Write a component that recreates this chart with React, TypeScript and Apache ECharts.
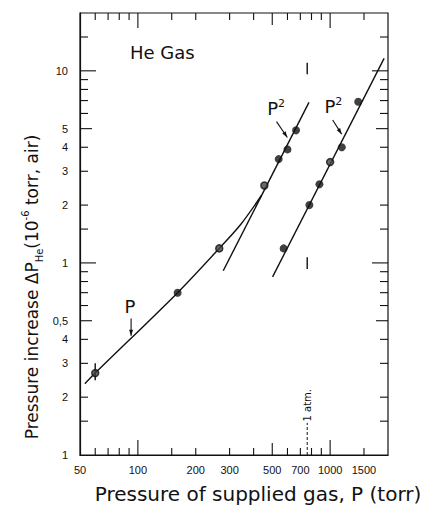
import React, { useEffect, useRef } from "react";
import * as echarts from "echarts";

// ---- Data ----
const X_MIN = 50;
const X_MAX = 2000;
const Y_MIN = 0.1;
const Y_MAX = 20;

// curved "P" line (linear at low pressure, bending into the P^2 line)
const curveP: [number, number][] = [
  [53, 0.235],
  [60, 0.267],
  [161, 0.7],
  [265, 1.19],
  [345, 1.6],
  [440, 2.25],
];
// straight P^2 fit lines
const lineLeftP2: [number, number][] = [
  [278, 0.91],
  [776, 6.85],
];
const lineRightP2: [number, number][] = [
  [502, 0.846],
  [1909, 11.6],
];
// measured points
const filledPts: [number, number][] = [
  [161, 0.7],
  [540, 3.47],
  [600, 3.9],
  [665, 4.9],
  [573, 1.19],
  [780, 2.0],
  [880, 2.57],
  [1150, 4.0],
  [1400, 6.9],
];
const openPts: [number, number][] = [
  [60, 0.267],
  [265, 1.19],
  [455, 2.53],
  [1000, 3.35],
];
const errorBar: [number, number][] = [
  [60, 0.245],
  [60, 0.3],
];
const atmUpper: [number, number][] = [
  [760, 9.6],
  [760, 11.0],
];
const atmLower: [number, number][] = [
  [760, 0.93],
  [760, 1.07],
];
const atmDashed: [number, number][] = [
  [760, 0.1],
  [760, 0.147],
];

// ticks and labels
const xTickValues = [60, 70, 80, 90, 100, 150, 200, 300, 400, 500, 600, 700, 800, 900, 1000, 1500];
const xLongTicks = [100, 1000];
const xMidTicks = [500];
const xLabelValues = [50, 100, 200, 300, 500, 700, 1000, 1500];
const xLabelTexts = ["50", "100", "200", "300", "500", "700", "1000", "1500"];

const yTickValues = [
  0.15, 0.2, 0.3, 0.4, 0.5, 0.6, 0.7, 0.8, 0.9, 1, 1.5, 2, 3, 4, 5, 6, 7, 8, 9, 10, 15,
];
const yLongTicks = [1, 10];
const yMidTicks = [0.5, 5];
const yLabelValues = [0.1, 0.2, 0.3, 0.4, 0.5, 1, 2, 3, 4, 5, 10];
const yLabelTexts = ["1", "2", "3", "4", "0,5", "1", "2", "3", "4", "5", "10"];

// annotations in data coordinates
const heGasPos: [number, number] = [134, 12.5];
const pLabelPos: [number, number] = [91, 0.592];
const pArrow: [number, number][] = [
  [92.2, 0.513],
  [92.2, 0.418],
];
const p2LeftLabelPos: [number, number] = [524, 6.36];
const p2LeftArrow: [number, number][] = [
  [526, 5.44],
  [599, 4.5],
];
const p2RightLabelPos: [number, number] = [1039, 6.51];
const p2RightArrow: [number, number][] = [
  [1031, 5.55],
  [1148, 4.68],
];
const atmTextPos: [number, number] = [760, 0.1816];

const BLACK = "#111";
const FONT = "DejaVu Sans";
const TICK_FONT = "11px 'Liberation Sans'";

export default function App() {
  const ref = useRef<HTMLDivElement>(null);

  useEffect(() => {
    if (!ref.current) return;
    const chart = echarts.init(ref.current, null, { renderer: "svg" });

    const lineSeries = (data: [number, number][], extra: any = {}) => ({
      type: "line",
      data,
      showSymbol: false,
      symbol: "none",
      silent: true,
      lineStyle: { color: BLACK, width: 1.4, ...(extra.lineStyle || {}) },
      smooth: extra.smooth || false,
      z: 2,
    });

    chart.setOption({
      animation: false,
      backgroundColor: "#fff",
      grid: {
        left: 80,
        top: 13,
        width: 308,
        height: 442,
        show: true,
        borderColor: BLACK,
        borderWidth: 1.2,
        backgroundColor: "transparent",
      },
      xAxis: {
        type: "log",
        logBase: 10,
        min: X_MIN,
        max: X_MAX,
        axisLine: { show: true, onZero: false, lineStyle: { color: BLACK, width: 1.2 } },
        axisTick: { show: false },
        axisLabel: { show: false },
        splitLine: { show: false },
      },
      yAxis: {
        type: "log",
        logBase: 10,
        min: Y_MIN,
        max: Y_MAX,
        axisLine: { show: true, onZero: false, lineStyle: { color: BLACK, width: 1.2 } },
        axisTick: { show: false },
        axisLabel: { show: false },
        splitLine: { show: false },
      },
      series: [
        lineSeries(curveP, { smooth: 0.3 }),
        lineSeries(lineLeftP2),
        lineSeries(lineRightP2),
        lineSeries(errorBar),
        lineSeries(atmUpper),
        lineSeries(atmLower),
        lineSeries(atmDashed, { lineStyle: { type: [3, 2], width: 1 } }),
        {
          type: "scatter",
          data: filledPts,
          symbol: "circle",
          symbolSize: 8,
          itemStyle: { color: BLACK },
          silent: true,
          z: 3,
        },
        {
          type: "scatter",
          data: openPts,
          symbol: "circle",
          symbolSize: 7,
          itemStyle: { color: "#444", borderColor: BLACK, borderWidth: 1.5 },
          silent: true,
          z: 3,
        },
      ],
    });

    const px = (p: [number, number]) =>
      chart.convertToPixel({ gridIndex: 0 }, p) as number[];
    const left = px([X_MIN, Y_MIN])[0];
    const bottom = px([X_MIN, Y_MIN])[1];
    const right = px([X_MAX, Y_MAX])[0];
    const top = px([X_MAX, Y_MAX])[1];

    const g: any[] = [];
    const ln = (x1: number, y1: number, x2: number, y2: number, w = 1.1) =>
      g.push({
        type: "line",
        shape: { x1, y1, x2, y2 },
        style: { stroke: BLACK, lineWidth: w },
        silent: true,
        z: 10,
      });

    // x ticks (bottom & top, inward)
    xTickValues.forEach((v) => {
      const x = px([v, Y_MIN])[0];
      const len = xLongTicks.includes(v) ? 15 : xMidTicks.includes(v) ? 12 : 7;
      ln(x, bottom, x, bottom - len);
      ln(x, top, x, top + len);
    });
    // y ticks (left & right, inward)
    yTickValues.forEach((v) => {
      const y = px([X_MIN, v])[1];
      const len = yLongTicks.includes(v) ? 16 : yMidTicks.includes(v) ? 12 : 8;
      ln(left, y, left + len, y);
      ln(right, y, right - len, y);
    });
    // x labels
    xLabelValues.forEach((v, i) => {
      const x = px([v, Y_MIN])[0];
      g.push({
        type: "text",
        x,
        y: bottom + 15,
        silent: true,
        style: {
          text: xLabelTexts[i],
          font: TICK_FONT,
          fill: BLACK,
          textAlign: "center",
          textVerticalAlign: "middle",
          align: "center",
          verticalAlign: "middle",
        },
      });
    });
    // y labels
    yLabelValues.forEach((v, i) => {
      const y = px([X_MIN, v])[1];
      g.push({
        type: "text",
        x: left - 12,
        y,
        silent: true,
        style: {
          text: yLabelTexts[i],
          font: TICK_FONT,
          fill: BLACK,
          textAlign: "right",
          textVerticalAlign: "middle",
          align: "right",
          verticalAlign: "middle",
        },
      });
    });

    const txt = (p: number[], text: string, size: number, extra: any = {}) =>
      g.push({
        type: "text",
        x: p[0],
        y: p[1],
        silent: true,
        rotation: extra.rotation || 0,
        style: {
          text,
          font: `${size}px '${FONT}'`,
          fill: BLACK,
          textAlign: "center",
          textVerticalAlign: "middle",
          align: "center",
          verticalAlign: "middle",
          rich: extra.rich,
        },
        z: 10,
      });

    const arrow = (a: [number, number], b: [number, number]) => {
      const p1 = px(a);
      const p2 = px(b);
      ln(p1[0], p1[1], p2[0], p2[1], 1.1);
      const dx = p2[0] - p1[0];
      const dy = p2[1] - p1[1];
      const L = Math.hypot(dx, dy) || 1;
      const ux = dx / L;
      const uy = dy / L;
      const hl = 6;
      const hw = 2;
      const bx = p2[0] - ux * hl;
      const by = p2[1] - uy * hl;
      g.push({
        type: "polygon",
        shape: {
          points: [
            [p2[0], p2[1]],
            [bx - uy * hw, by + ux * hw],
            [bx + uy * hw, by - ux * hw],
          ],
        },
        style: { fill: BLACK },
        silent: true,
        z: 10,
      });
    };

    const supRich = {
      sup: { fontSize: 11, fontFamily: FONT, lineHeight: 11, verticalAlign: "top", fill: BLACK },
      base: { fontSize: 18, fontFamily: FONT, lineHeight: 22, fill: BLACK },
    };

    txt(px(heGasPos), "He Gas", 18);
    txt(px(pLabelPos), "P", 18);
    arrow(pArrow[0], pArrow[1]);
    txt(px(p2LeftLabelPos), "{base|P}{sup|2}", 18, { rich: supRich });
    arrow(p2LeftArrow[0], p2LeftArrow[1]);
    txt(px(p2RightLabelPos), "{base|P}{sup|2}", 18, { rich: supRich });
    arrow(p2RightArrow[0], p2RightArrow[1]);
    txt(px(atmTextPos), "1 atm.", 10, { rotation: Math.PI / 2 });

    // axis titles
    txt([258, 494], "Pressure of supplied gas, P (torr)", 20);
    txt([32, 287], "{b|Pressure increase ΔP}{sub|He}{b|(10}{sup|-6}{b| torr, air)}", 17, {
      rotation: Math.PI / 2,
      rich: {
        b: { fontSize: 17, fontFamily: FONT, lineHeight: 24, fill: BLACK },
        sub: { fontSize: 10, fontFamily: FONT, lineHeight: 10, verticalAlign: "bottom", fill: BLACK },
        sup: { fontSize: 10, fontFamily: FONT, lineHeight: 10, verticalAlign: "top", fill: BLACK },
      },
    });

    chart.setOption({ graphic: g });

    return () => chart.dispose();
  }, []);

  return (
    <div
      ref={ref}
      style={{ position: "fixed", left: 0, top: 0, width: 426, height: 518, background: "#fff" }}
    />
  );
}
